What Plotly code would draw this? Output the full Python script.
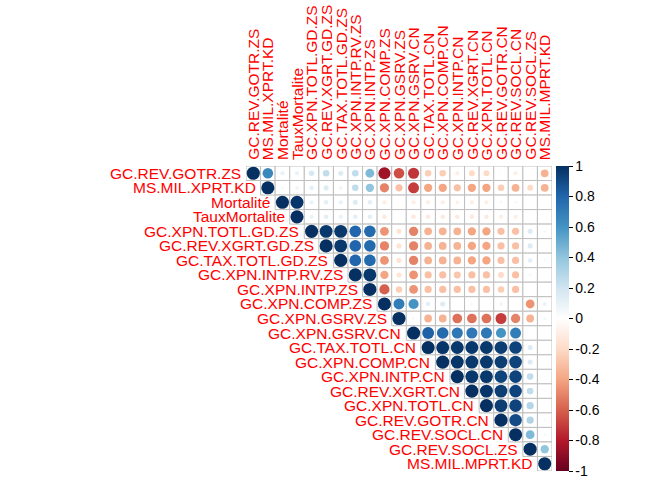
import numpy as np
import plotly.graph_objects as go

variables = [
    "GC.REV.GOTR.ZS", "MS.MIL.XPRT.KD", "Mortalité", "TauxMortalite",
    "GC.XPN.TOTL.GD.ZS", "GC.REV.XGRT.GD.ZS", "GC.TAX.TOTL.GD.ZS",
    "GC.XPN.INTP.RV.ZS", "GC.XPN.INTP.ZS", "GC.XPN.COMP.ZS", "GC.XPN.GSRV.ZS",
    "GC.XPN.GSRV.CN", "GC.TAX.TOTL.CN", "GC.XPN.COMP.CN", "GC.XPN.INTP.CN",
    "GC.REV.XGRT.CN", "GC.XPN.TOTL.CN", "GC.REV.GOTR.CN", "GC.REV.SOCL.CN",
    "GC.REV.SOCL.ZS", "MS.MIL.MPRT.KD",
]

# upper-triangle correlations, row i starts at column i (diagonal)
row_01 = [1.00, 0.65, 0.10, 0.10, 0.18, 0.25, 0.15, 0.25, 0.45, -0.85, -0.65, -0.72, -0.25, -0.25, -0.10, -0.20, -0.20, -0.03, -0.10, -0.02, -0.35]
row_02 = [1.00, 0.05, 0.08, 0.12, 0.15, 0.08, 0.25, 0.40, -0.50, -0.30, -0.70, -0.40, -0.40, -0.30, -0.40, -0.40, -0.25, -0.35, -0.20, -0.35]
row_03 = [1.00, 0.98, 0.10, 0.12, 0.10, 0.15, 0.12, -0.10, 0.01, -0.10, -0.10, -0.10, -0.08, -0.10, -0.10, -0.05, -0.05, -0.01, 0.01]
row_04 = [1.00, 0.10, 0.12, 0.10, 0.12, 0.12, -0.12, 0.01, -0.12, -0.12, -0.12, -0.12, -0.12, -0.12, -0.10, -0.10, 0.01, 0.01]
row_05 = [1.00, 0.97, 0.97, 0.80, 0.78, -0.45, -0.15, -0.50, -0.35, -0.35, -0.35, -0.40, -0.40, -0.30, -0.30, 0.15, 0.05]
row_06 = [1.00, 0.97, 0.80, 0.78, -0.50, -0.15, -0.50, -0.35, -0.35, -0.35, -0.40, -0.40, -0.30, -0.30, 0.15, 0.02]
row_07 = [1.00, 0.80, 0.78, -0.45, -0.15, -0.50, -0.35, -0.35, -0.35, -0.40, -0.40, -0.30, -0.30, 0.12, 0.05]
row_08 = [1.00, 0.97, -0.40, -0.15, -0.45, -0.30, -0.30, -0.28, -0.30, -0.30, -0.20, -0.30, 0.05, -0.01]
row_09 = [1.00, -0.60, -0.25, -0.45, -0.30, -0.30, -0.30, -0.30, -0.30, -0.25, -0.30, 0.00, 0.02]
row_10 = [1.00, 0.70, 0.60, 0.12, 0.15, 0.03, 0.05, 0.03, 0.08, 0.02, -0.45, 0.10]
row_11 = [1.00, 0.05, -0.35, -0.35, -0.55, -0.55, -0.55, -0.70, -0.50, -0.35, 0.06]
row_12 = [1.00, 0.82, 0.78, 0.72, 0.72, 0.72, 0.60, 0.70, -0.02, 0.01]
row_13 = [1.00, 0.98, 0.97, 0.97, 0.97, 0.95, 0.93, 0.15, 0.01]
row_14 = [1.00, 0.98, 0.97, 0.97, 0.95, 0.93, 0.15, 0.01]
row_15 = [1.00, 0.97, 0.97, 0.93, 0.93, 0.25, 0.02]
row_16 = [1.00, 0.98, 0.95, 0.93, 0.25, 0.03]
row_17 = [1.00, 0.95, 0.93, 0.30, 0.02]
row_18 = [1.00, 0.90, 0.30, 0.05]
row_19 = [1.00, 0.45, 0.05]
row_20 = [1.00, 0.40]
row_21 = [1.00]

rows = [row_01, row_02, row_03, row_04, row_05, row_06, row_07, row_08, row_09,
        row_10, row_11, row_12, row_13, row_14, row_15, row_16, row_17, row_18,
        row_19, row_20, row_21]

cbar_vals = [1, 0.8, 0.6, 0.4, 0.2, 0, -0.2, -0.4, -0.6, -0.8, -1]
cbar_text = ["1", "0.8", "0.6", "0.4", "0.2", "0", "-0.2", "-0.4", "-0.6", "-0.8", "-1"]

colorscale = [
    [0.0, "#67001F"], [0.1, "#B2182B"], [0.2, "#D6604D"], [0.3, "#F4A582"],
    [0.4, "#FDDBC7"], [0.5, "#FFFFFF"], [0.6, "#D1E5F0"], [0.7, "#92C5DE"],
    [0.8, "#4393C3"], [0.9, "#2166AC"], [1.0, "#053061"],
]

n = len(variables)
W, H = 672, 480
ml, mr, mt, mb = 246, 120, 166, 9
plot_w = W - ml - mr
cell = plot_w / n

xs, ys, vals = [], [], []
for i, row in enumerate(rows):
    for k, v in enumerate(row):
        xs.append(i + k + 1)
        ys.append(i + 1)
        vals.append(v)
vals = np.array(vals)
sizes = 0.9 * np.sqrt(np.abs(vals)) * cell

fig = go.Figure()

shapes = []
for i in range(n):
    for j in range(i, n):
        shapes.append(dict(type="rect", xref="x", yref="y",
                           x0=j + 0.5, x1=j + 1.5, y0=i + 0.5, y1=i + 1.5,
                           line=dict(color="#BEBEBE", width=1),
                           fillcolor="white", layer="below"))

fig.add_trace(go.Scatter(
    x=xs, y=ys, mode="markers",
    marker=dict(size=sizes, color=vals, colorscale=colorscale, cmin=-1, cmax=1,
                line=dict(width=0), opacity=1,
                colorbar=dict(x=1 + 4 / plot_w, xanchor="left", xpad=0,
                              y=0.5, yanchor="middle", ypad=0,
                              len=1.0, lenmode="fraction", thickness=13,
                              outlinewidth=0, ticks="outside", ticklen=4,
                              tickcolor="black", tickvals=cbar_vals,
                              ticktext=cbar_text,
                              tickfont=dict(family="Liberation Sans, Arial", size=14, color="black"))),
    hoverinfo="skip", showlegend=False))

annotations = []
lab_font = dict(family="Liberation Sans, Arial", size=15.5, color="#FF0000")
for i, name in enumerate(variables):
    annotations.append(dict(x=i + 0.5, y=i + 1, xref="x", yref="y", text=name,
                            showarrow=False, xanchor="right", yanchor="middle",
                            xshift=-3, font=lab_font))
    annotations.append(dict(x=i + 1, y=0.5, xref="x", yref="y", text=name,
                            showarrow=False, xanchor="center", yanchor="bottom",
                            textangle=-90, yshift=4, font=lab_font))

fig.update_layout(
    width=W, height=H,
    margin=dict(l=ml, r=mr, t=mt, b=mb),
    paper_bgcolor="white", plot_bgcolor="white",
    xaxis=dict(range=[0.5, n + 0.5], visible=False, fixedrange=True),
    yaxis=dict(range=[n + 0.5, 0.5], visible=False, fixedrange=True),
    shapes=shapes, annotations=annotations,
)

fig.write_html("out.html")
